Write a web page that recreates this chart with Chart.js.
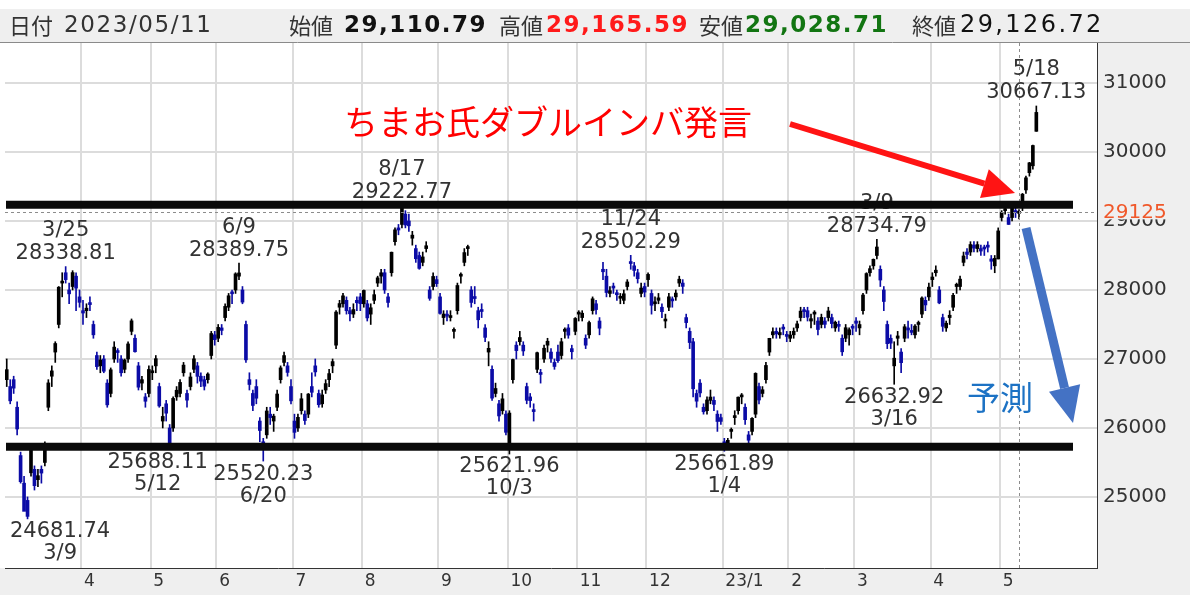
<!DOCTYPE html>
<html>
<head>
<meta charset="utf-8">
<script src="https://cdn.jsdelivr.net/npm/chart.js@4.4.1/dist/chart.umd.min.js"></script>
<style>
  html, body { margin: 0; padding: 0; background: #fff; }
  #wrap { width: 1190px; height: 595px; }
</style>
</head>
<body>
<div id="wrap"><canvas id="chart"></canvas></div>
<script>
// month keys and the label shown on the x axis at each month start
const monthKeys = ["2022/3", "2022/4", "2022/5", "2022/6", "2022/7", "2022/8", "2022/9", "2022/10", "2022/11", "2022/12", "2023/1", "2023/2", "2023/3", "2023/4", "2023/5"];
const monthTicks = ["", "4", "5", "6", "7", "8", "9", "10", "11", "12", "23/1", "2", "3", "4", "5"];
const priceTicks = [25000, 26000, 27000, 28000, 29000, 30000, 31000];

// daily candles per month: [day, open, high, low, close]
const d2203 = [[1,26700,27000,26600,26845],[2,26600,26700,26350,26393],[3,26700,26750,26500,26577],[4,26300,26380,25900,25985],
  [7,25600,25650,25200,25221],[8,25200,25300,24800,24791],[9,24950,25000,24682,24718],[10,25350,25700,25300,25690],[11,25400,25450,25100,25163],
  [14,25250,25400,25150,25308],[15,25400,25450,25200,25346],[16,25500,25800,25450,25762],[17,26300,26700,26250,26653],[18,26750,26900,26600,26827],
  [22,27100,27250,26950,27224],[23,27500,28050,27450,28040],[24,28100,28250,27900,28110],[25,28250,28339,28100,28150],
  [28,28000,28100,27800,27944],[29,28050,28280,28000,28252],[30,28200,28250,27700,28027],[31,27900,28000,27750,27821]];
const d2204 = [[1,27700,27850,27500,27666],[4,27700,27800,27600,27736],[5,27800,27900,27700,27788],[6,27500,27550,27300,27350],[7,27050,27100,26850,26889],
  [8,26900,27050,26800,26986],[11,27000,27050,26800,26822],[12,26650,26700,26300,26335],[13,26500,26870,26450,26843],[14,27000,27250,26950,27172],
  [15,27100,27150,26950,27093],[18,27000,27050,26750,26800],[19,26850,27000,26800,26985],[20,27000,27250,26950,27218],[21,27400,27580,27350,27553],
  [22,27300,27350,27100,27105],[25,26900,26950,26550,26591],[26,26650,26750,26550,26700],[27,26450,26500,26300,26387],[28,26500,26900,26450,26848]];
const d2205 = [[2,26800,26900,26700,26819],[6,26900,27050,26800,27004],[9,26600,26650,26300,26319],[10,26100,26300,26000,26167],[11,26350,26400,26100,26214],
  [12,26000,26050,25688,25749],[13,26000,26450,25950,26428],[16,26450,26600,26400,26547],[17,26500,26700,26450,26660],[18,26800,26950,26750,26911],
  [19,26500,26550,26300,26403],[20,26600,26800,26550,26739],[23,26850,27050,26800,27002],[24,26900,26950,26650,26748],[25,26750,26800,26600,26678],
  [26,26700,26750,26550,26605],[27,26700,26800,26650,26782],[30,27050,27400,27000,27369],[31,27350,27400,27200,27280]];
const d2206 = [[1,27300,27500,27250,27458],[2,27450,27500,27350,27414],[3,27600,27800,27550,27762],[6,27750,27950,27700,27916],[7,27950,28000,27800,27944],
  [8,28000,28250,27950,28234],[9,28200,28390,28150,28247],[10,28000,28050,27800,27824],[13,27500,27550,26950,26987],[14,26700,26800,26550,26630],
  [15,26500,26550,26250,26326],[16,26600,26700,26350,26431],[17,26100,26150,25800,25963],[20,25800,25850,25520,25771],[21,25900,26300,25850,26246],
  [22,26200,26300,26050,26150],[23,26100,26200,25950,26171],[24,26300,26550,26250,26492],[27,26700,26900,26650,26871],[28,26950,27100,26900,27049],
  [29,26900,26950,26750,26805],[30,26600,26700,26350,26393]];
const d2207 = [[1,26100,26200,25850,25936],[4,26000,26200,25950,26154],[5,26250,26500,26200,26423],[6,26200,26250,26050,26108],[7,26200,26500,26150,26491],
  [8,26600,26800,26450,26517],[11,26900,27000,26750,26812],[12,26500,26550,26300,26337],[13,26350,26550,26300,26479],[14,26550,26700,26500,26643],
  [15,26700,26850,26600,26788],[19,26900,27000,26800,26962],[20,27200,27700,27150,27680],[21,27750,27850,27650,27803],[22,27800,27950,27750,27915],
  [25,27850,27900,27650,27699],[26,27700,27750,27550,27655],[27,27650,27800,27600,27716],[28,27850,27900,27700,27815],[29,27900,27950,27700,27802]];
const d2208 = [[1,27800,28000,27750,27993],[2,27800,27850,27550,27595],[3,27650,27800,27500,27742],[4,27850,28000,27800,27932],[5,28100,28200,28050,28176],
  [8,28200,28300,28100,28249],[9,28250,28300,27950,28000],[10,27900,27950,27750,27819],[12,28250,28550,28200,28547],[15,28700,28900,28650,28872],
  [16,28900,28950,28800,28869],[17,28950,29223,28900,29223],[18,29100,29150,28900,28942],[19,29000,29100,28850,28930],[22,28750,28850,28650,28795],
  [23,28600,28650,28400,28453],[24,28500,28550,28300,28313],[25,28400,28550,28350,28479],[26,28600,28700,28550,28641],[29,28000,28050,27850,27879],
  [30,28050,28250,28000,28196],[31,28150,28200,28050,28092]];
const d2209 = [[1,27900,27950,27650,27661],[2,27600,27700,27500,27651],[5,27650,27700,27550,27620],[6,27600,27700,27550,27627],[7,27400,27450,27300,27430],
  [8,27700,28100,27650,28065],[9,28200,28250,28100,28215],[12,28400,28600,28350,28542],[13,28600,28650,28500,28615],[14,28000,28050,27750,27819],
  [15,27900,28050,27800,27876],[16,27700,27750,27450,27568],[20,27700,27800,27600,27688],[21,27450,27500,27250,27313],[22,27100,27250,26900,27154],
  [26,26850,26900,26400,26432],[27,26500,26650,26450,26572],[28,26350,26400,26100,26174],[29,26250,26500,26200,26422],[30,26200,26250,25900,25937]];
const d2210 = [[3,25700,26250,25622,26216],[4,26700,27000,26650,26992],[5,27200,27250,27000,27121],[6,27250,27400,27200,27311],[7,27200,27250,27050,27116],
  [11,26600,26650,26350,26401],[12,26450,26500,26300,26397],[13,26250,26350,26100,26237],[14,26850,27100,26800,27091],[17,26800,26850,26650,26776],
  [18,27000,27200,26950,27156],[19,27200,27300,27100,27257],[20,27100,27150,26950,27007],[21,26950,27000,26850,26891],[24,27100,27200,26950,26975],
  [25,27050,27300,27000,27250],[26,27400,27450,27300,27432],[27,27450,27500,27300,27345],[28,27150,27200,27000,27105],[31,27400,27600,27350,27587]];
const d2211 = [[1,27650,27700,27550,27679],[2,27600,27700,27550,27663],[4,27300,27350,27150,27200],[7,27350,27550,27300,27528],[8,27700,27900,27650,27872],
  [9,27800,27850,27650,27716],[10,27550,27600,27350,27446],[11,28300,28400,28150,28264],[14,28200,28300,27900,27963],[15,27950,28050,27900,27990],
  [16,28050,28100,27950,28028],[17,27950,28000,27850,27931],[18,27880,27950,27800,27900],[21,27850,28000,27800,27945],[22,28050,28150,28000,28116],
  [24,28400,28502,28300,28383],[25,28350,28400,28200,28283],[28,28250,28300,28100,28163],[29,27950,28100,27900,28028],[30,28050,28100,27900,27969]];
const d2212 = [[1,28150,28250,28050,28226],[2,27950,28000,27650,27778],[5,27800,27900,27700,27820],[6,27850,27950,27800,27886],[7,27750,27800,27600,27686],
  [8,27550,27650,27450,27574],[9,27750,27950,27700,27901],[12,27850,27900,27750,27842],[13,27900,28000,27850,27955],[14,28100,28200,28050,28156],
  [15,28100,28150,27950,28052],[16,27600,27650,27450,27527],[19,27400,27450,27150,27238],[20,27250,27300,26450,26568],[21,26500,26550,26300,26388],
  [22,26650,26700,26450,26508],[23,26300,26350,26200,26235],[26,26250,26450,26200,26406],[27,26400,26550,26350,26448],[28,26400,26450,26250,26341],
  [29,26200,26250,25950,26094],[30,26150,26200,26050,26095]];
const d2301 = [[4,25800,25850,25662,25717],[5,25750,25850,25700,25821],[6,25950,26000,25850,25974],[10,26150,26250,26050,26176],[11,26250,26450,26200,26446],
  [12,26450,26500,26350,26450],[13,26300,26350,26050,26120],[16,25900,25950,25750,25822],[17,25950,26150,25900,26139],[18,26200,26800,26150,26791],
  [19,26600,26650,26350,26405],[20,26500,26600,26450,26554],[23,26700,26950,26650,26906],[24,27100,27300,27050,27299],[25,27350,27450,27300,27395],
  [26,27400,27450,27300,27363],[27,27350,27450,27300,27383],[30,27450,27500,27350,27433],[31,27350,27400,27250,27327]];
const d2302 = [[1,27300,27400,27250,27347],[2,27350,27450,27300,27402],[3,27450,27550,27400,27509],[6,27600,27750,27550,27694],[7,27700,27750,27600,27685],
  [8,27700,27750,27550,27606],[9,27550,27650,27450,27584],[10,27650,27700,27500,27671],[13,27550,27600,27350,27427],[14,27500,27650,27450,27603],
  [15,27550,27600,27450,27502],[16,27600,27750,27550,27696],[17,27600,27650,27450,27513],[20,27450,27550,27400,27532],[21,27500,27550,27400,27473],
  [22,27300,27350,27050,27104],[24,27300,27500,27250,27453],[27,27350,27450,27200,27424],[28,27450,27500,27350,27446]];
const d2303 = [[1,27550,27600,27400,27517],[2,27450,27550,27350,27499],[3,27700,27950,27650,27927],[6,28000,28250,27950,28238],[7,28250,28350,28200,28309],
  [8,28350,28450,28300,28444],[9,28500,28735,28450,28623],[10,28300,28350,28050,28144],[13,28000,28050,27700,27833],[14,27500,27550,27150,27222],
  [15,27300,27350,27150,27229],[16,26900,27250,26633,27011],[17,27300,27400,27200,27334],[20,27100,27150,26800,26946],[22,27300,27500,27250,27467],
  [23,27450,27550,27300,27420],[24,27400,27500,27350,27385],[27,27350,27500,27300,27477],[28,27500,27550,27400,27518],[29,27650,27900,27600,27884],
  [30,27850,27900,27700,27783],[31,27900,28100,27850,28041]];
const d2304 = [[3,28150,28250,28050,28188],[4,28250,28350,28200,28287],[5,28000,28050,27800,27813],[6,27600,27650,27400,27473],[7,27450,27550,27400,27518],
  [10,27600,27700,27500,27634],[11,27750,27950,27700,27923],[12,28050,28100,27950,28083],[13,28050,28200,28000,28157],[14,28400,28550,28350,28493],
  [17,28550,28600,28450,28515],[18,28550,28700,28500,28659],[19,28650,28700,28550,28607],[20,28600,28700,28550,28658],[21,28600,28650,28500,28564],
  [24,28600,28650,28500,28594],[25,28650,28700,28550,28620],[26,28450,28500,28300,28416],[27,28350,28500,28250,28458],[28,28450,28900,28450,28856]];
const d2305 = [[1,29050,29150,29000,29123],[2,29150,29200,29100,29158],[8,29050,29100,28950,28950],[9,29050,29250,29000,29243],[10,29150,29200,29050,29122],
  [11,29111,29166,29029,29127],[12,29200,29400,29150,29388],[15,29450,29650,29400,29626],[16,29700,29850,29650,29843],[17,29800,30100,29750,30094],
  [18,30300,30667,30300,30574]];
const monthRows = [d2203, d2204, d2205, d2206, d2207, d2208, d2209, d2210, d2211, d2212, d2301, d2302, d2303, d2304, d2305];

// labelled highs and lows
const extremeDates  = ["2022/3/9", "2022/3/25", "2022/5/12", "2022/6/9", "2022/6/20", "2022/8/17", "2022/10/3", "2022/11/24", "2023/1/4", "2023/3/9", "2023/3/16", "2023/5/18"];
const extremeValues = ["24681.74", "28338.81", "25688.11", "28389.75", "25520.23", "29222.77", "25621.96", "28502.29", "25661.89", "28734.79", "26632.92", "30667.13"];
const extremeKinds  = ["low", "high", "low", "high", "low", "high", "low", "high", "low", "high", "low", "high"];
const extremeShift  = [0, 0, -12, 0, 0, 0, 0, 0, 0, 0, 0, 0];

// hand-drawn support / resistance lines and the marked price
const levelLines = [29236, 25729];
const markPrice = 29125;
const crossDate = "2023/5/11";

// header quote for the selected day
const quoteDate = "2023/05/11";
const quoteOpen = "29,110.79", quoteHigh = "29,165.59", quoteLow = "29,028.71", quoteClose = "29,126.72";

const blankSlots = 17;

// ---- build series ----
const labels = [], tickText = [], opens = [], highs = [], lows = [], closes = [];
const monthStart = new Set();
monthRows.forEach((rows, m) => rows.forEach((r, k) => {
  if (k === 0 && m > 0) monthStart.add(labels.length);
  tickText.push(k === 0 ? monthTicks[m] : "");
  labels.push(monthKeys[m] + "/" + r[0]);
  opens.push(r[1]); highs.push(r[2]); lows.push(r[3]); closes.push(r[4]);
}));
const n = labels.length;
for (let i = 0; i < blankSlots; i++) { labels.push(""); tickText.push(""); }

const UP = "#000000", DOWN = "#0c0ca6";
const colorAt = i => (i < n && closes[i] >= opens[i]) ? UP : DOWN;

function arrow(ctx, x1, y1, x2, y2, w, hl, hw, color) {
  const a = Math.atan2(y2 - y1, x2 - x1);
  const bx = x2 - hl * Math.cos(a), by = y2 - hl * Math.sin(a);
  ctx.strokeStyle = color; ctx.fillStyle = color; ctx.lineWidth = w; ctx.lineCap = "butt";
  ctx.beginPath(); ctx.moveTo(x1, y1); ctx.lineTo(bx, by); ctx.stroke();
  ctx.beginPath();
  ctx.moveTo(x2, y2);
  ctx.lineTo(bx + hw / 2 * Math.sin(a), by - hw / 2 * Math.cos(a));
  ctx.lineTo(bx - hw / 2 * Math.sin(a), by + hw / 2 * Math.cos(a));
  ctx.closePath(); ctx.fill();
}

function text(ctx, s, x, y, font, color, spacing) {
  ctx.font = font; ctx.fillStyle = color;
  ctx.letterSpacing = spacing || "0px";
  ctx.fillText(s, x, y);
  ctx.letterSpacing = "0px";
}

const decor = {
  id: "decor",
  beforeDraw(chart) {
    const { ctx, chartArea: a, width: W, height: H } = chart;
    ctx.save();
    ctx.fillStyle = "#ffffff"; ctx.fillRect(0, 0, W, H);
    ctx.fillStyle = "#efefef";
    ctx.fillRect(0, 9, W, 33);
    ctx.fillRect(a.right, a.top, W - a.right, H - a.top);
    ctx.fillRect(0, a.bottom, W, H - a.bottom);
    ctx.strokeStyle = "#8a8a8a"; ctx.lineWidth = 1;
    ctx.beginPath(); ctx.moveTo(0, 42.5); ctx.lineTo(W, 42.5); ctx.stroke();

    ctx.textBaseline = "middle"; ctx.textAlign = "left";
    const cjk = '22px "Noto Sans CJK JP"';
    text(ctx, "日付", 9, 26, cjk, "#333");
    text(ctx, quoteDate, 64, 26, '23px "DejaVu Sans"', "#333", "1.6px");
    text(ctx, "始値", 289, 26, cjk, "#333");
    text(ctx, quoteOpen, 344, 26, 'bold 23px "DejaVu Sans"', "#111", "1.5px");
    text(ctx, "高値", 499, 26, cjk, "#333");
    text(ctx, quoteHigh, 546, 26, 'bold 23px "DejaVu Sans"', "#ff1a1a", "1.5px");
    text(ctx, "安値", 699, 26, cjk, "#333");
    text(ctx, quoteLow, 745, 26, 'bold 23px "DejaVu Sans"', "#127512", "1.5px");
    text(ctx, "終値", 912, 26, cjk, "#333");
    text(ctx, quoteClose, 960, 26, '24px "DejaVu Sans"', "#111", "2.4px");
    ctx.restore();
  },
  afterDatasetsDraw(chart) {
    const { ctx, chartArea: a, scales: { x, y } } = chart;
    ctx.save();

    // marked price (dashed) and crosshair
    ctx.strokeStyle = "#8c8c8c"; ctx.lineWidth = 1; ctx.setLineDash([3, 3]);
    const ym = Math.round(y.getPixelForValue(markPrice)) + 0.5;
    ctx.beginPath(); ctx.moveTo(a.left, ym); ctx.lineTo(a.right, ym); ctx.stroke();
    const xc = Math.round(x.getPixelForValue(labels.indexOf(crossDate))) + 0.5;
    ctx.beginPath(); ctx.moveTo(xc, a.top); ctx.lineTo(xc, a.bottom); ctx.stroke();
    ctx.setLineDash([]);

    // high / low labels
    ctx.font = '21px "DejaVu Sans"'; ctx.fillStyle = "#333"; ctx.textAlign = "center"; ctx.textBaseline = "middle";
    extremeDates.forEach((d, i) => {
      const idx = labels.indexOf(d);
      const v = parseFloat(extremeValues[i]);
      let cx = x.getPixelForValue(idx) + extremeShift[i];
      const half = ctx.measureText(extremeValues[i]).width / 2;
      cx = Math.max(cx, a.left + 5 + half);
      const py = y.getPixelForValue(v);
      const dateText = d.split("/").slice(1).join("/");
      if (extremeKinds[i] === "high") {
        ctx.fillText(dateText, cx, py - 36);
        ctx.fillText(extremeValues[i], cx, py - 13);
      } else {
        ctx.fillText(extremeValues[i], cx, py + 13);
        ctx.fillText(dateText, cx, py + 35);
      }
    });

    // hand-drawn horizontal lines
    ctx.strokeStyle = "#0a0a0a"; ctx.lineWidth = 8;
    levelLines.forEach(v => {
      const py = y.getPixelForValue(v);
      ctx.beginPath(); ctx.moveTo(a.left + 1, py); ctx.lineTo(1073, py); ctx.stroke();
    });

    // comments and arrows
    ctx.textAlign = "left";
    text(ctx, "ちまお氏ダブルインバ発言", 344, 122, '34px "Noto Sans CJK JP"', "#ff0000");
    arrow(ctx, 790, 124, 1015, 193, 6, 32, 30, "#ff1414");
    arrow(ctx, 1026, 228, 1073, 423, 9, 36, 32, "#4472c4");
    text(ctx, "予測", 967, 397, '33px "Noto Sans CJK JP"', "#1c72c4");
    ctx.restore();
  },
  afterDraw(chart) {
    const { ctx, chartArea: a, scales: { y } } = chart;
    ctx.save();
    const py = y.getPixelForValue(markPrice);
    ctx.fillStyle = "#efefef";
    ctx.fillRect(a.right + 2, py - 11, 88, 18);
    ctx.textBaseline = "middle"; ctx.textAlign = "left";
    text(ctx, String(markPrice), a.right + 6, py, '20px "DejaVu Sans"', "#f0582a");
    ctx.restore();
  }
};

Chart.defaults.font.family = '"DejaVu Sans", sans-serif';

new Chart(document.getElementById("chart"), {
  type: "bar",
  data: {
    labels: labels,
    datasets: [
      {
        label: "wick",
        data: labels.map((_, i) => i < n ? [lows[i], highs[i]] : null),
        backgroundColor: labels.map((_, i) => colorAt(i)),
        barThickness: 1,
        grouped: false,
        minBarLength: 1,
      },
      {
        label: "body",
        data: labels.map((_, i) => i < n ? [opens[i], closes[i]] : null),
        backgroundColor: labels.map((_, i) => colorAt(i)),
        barThickness: 3,
        grouped: false,
        minBarLength: 2,
      },
    ],
  },
  options: {
    responsive: true,
    maintainAspectRatio: false,
    animation: false,
    layout: { padding: { left: 5, top: 43, right: 0, bottom: 0 } },
    plugins: {
      legend: { display: false },
      tooltip: { enabled: false },
    },
    scales: {
      x: {
        type: "category",
        offset: true,
        grid: {
          offset: true,
          drawTicks: false,
          lineWidth: 2,
          color: ctx => monthStart.has(ctx.index) ? "#dcdcdc" : "rgba(0,0,0,0)",
        },
        border: { color: "#333", width: 1 },
        ticks: {
          autoSkip: false,
          maxRotation: 0,
          minRotation: 0,
          align: "start",
          labelOffset: 1,
          padding: 3,
          color: "#333",
          font: { size: 17 },
          callback: (v, i) => tickText[i] || "",
        },
        afterFit: s => { s.height = 27; },
      },
      y: {
        position: "right",
        min: 23970,
        max: 31580,
        grid: { drawTicks: false, lineWidth: 2, color: "#dcdcdc" },
        border: { color: "#333", width: 1 },
        ticks: {
          padding: 6,
          color: "#333",
          font: { size: 20 },
          callback: v => String(v),
        },
        afterBuildTicks: s => { s.ticks = priceTicks.map(v => ({ value: v })); },
        afterFit: s => { s.width = 93; },
      },
    },
  },
  plugins: [decor],
});
</script>
</body>
</html>
